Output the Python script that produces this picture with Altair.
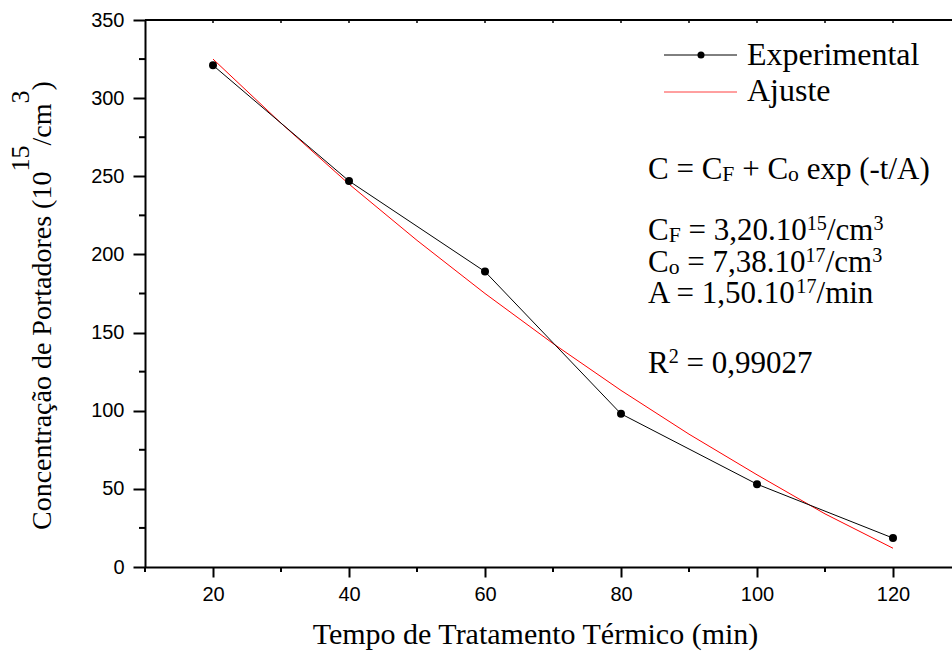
import altair as alt
import pandas as pd

# Measured carrier concentration (10^15 / cm^3) versus annealing time (min)
tempo = [20, 40, 60, 80, 100, 120]
concentracao = [321, 247, 189, 98, 53, 18.5]

# Fitted curve C = C_F + C_o exp(-t/A), sampled every 10 min
ajuste_t = [20, 30, 40, 50, 60, 70, 80, 90, 100, 110, 120]
ajuste_c = [325, 284, 245, 209, 175, 143, 113, 85, 59, 34, 12]

x_major = [20, 40, 60, 80, 100, 120]
x_minor = [10, 30, 50, 70, 90, 110]
x_top = [20, 30, 40, 50, 60, 70, 80, 90, 100, 110, 120]
y_major = [0, 50, 100, 150, 200, 250, 300, 350]
y_minor = [25, 75, 125, 175, 225, 275, 325]

SERIF = "Liberation Serif"
SANS = "Liberation Sans"

# Plot-area geometry (pixels) and the matching data domain
W, H = 807, 547
LEFT, TOP = 145, 20
X0 = 10
X1 = X0 + W / 6.8
Y0, Y1 = 0, 350
PXX = W / (X1 - X0)
PXY = H / (Y1 - Y0)


def dx(px):
    return X0 + (px - LEFT) / PXX


def dy(py):
    return Y1 - (py - TOP) / PXY


# Times / Liberation Serif advance widths (per 1000 em)
TIMES = {
    " ": 250, "C": 667, "=": 564, "F": 556, "+": 564, "o": 500, "e": 444,
    "x": 500, "p": 500, "(": 333, "-": 333, "t": 278, "/": 278, "A": 722,
    ")": 333, ",": 250, ".": 250, "c": 444, "m": 778, "i": 278, "n": 500,
    "R": 667, "ç": 444, "ã": 444, "P": 556, "s": 389, "d": 500, "a": 444,
    "r": 333, "E": 611, "l": 278, "j": 278, "u": 500,
}
for d in "0123456789":
    TIMES[d] = 500


def wid(s, fs):
    return sum(TIMES.get(c, 500) for c in s) * fs / 1000.0


def rich_line(segments, x_px, base_py, fs, sub=(0.7, 2), sup=(0.65, 10)):
    rows = []
    cur = x_px
    for txt, kind in segments:
        if kind == "n":
            size, off = fs, 0
        elif kind == "sub":
            size, off = fs * sub[0], sub[1]
        else:
            size, off = fs * sup[0], -sup[1]
        lead = len(txt) - len(txt.lstrip(" "))
        cur += wid(" " * lead, size)
        core = txt.strip(" ")
        rows.append({"x": dx(cur), "y": dy(base_py + off), "t": core, "fs": size})
        cur += wid(core, size)
        trail = len(txt) - len(txt.rstrip(" "))
        cur += wid(" " * trail, size)
    return rows


xs = alt.Scale(domain=[X0, X1], nice=False, zero=False)
ys = alt.Scale(domain=[Y0, Y1], nice=False, zero=False)

x_axis = alt.Axis(
    values=x_major, grid=False, title="Tempo de Tratamento Térmico (min)",
    tickSize=10, tickWidth=2, tickColor="black", domainWidth=2, domainColor="black",
    labelFont=SANS, labelFontSize=20, labelColor="black", labelPadding=7,
    titleFont=SERIF, titleFontSize=30, titleFontWeight="normal", titleColor="black",
    titleX=390, titleY=76, titleAlign="center", titleBaseline="alphabetic",
    titleAnchor="start",
)
y_axis = alt.Axis(
    values=y_major, grid=False, title=None,
    tickSize=12, tickWidth=2, tickColor="black", domainWidth=2, domainColor="black",
    labelFont=SANS, labelFontSize=20, labelColor="black", labelPadding=9,
)


def X(f="x"):
    return alt.X(f"{f}:Q", scale=xs, axis=x_axis)


def Y(f="y"):
    return alt.Y(f"{f}:Q", scale=ys, axis=y_axis)


exp_df = pd.DataFrame({"x": tempo, "y": concentracao})
fit_df = pd.DataFrame({"x": ajuste_t, "y": ajuste_c})

fit_line = alt.Chart(fit_df).mark_line(color="#ff0000", strokeWidth=1).encode(x=X(), y=Y())
exp_line = alt.Chart(exp_df).mark_line(color="black", strokeWidth=1).encode(x=X(), y=Y())
exp_pts = alt.Chart(exp_df).mark_circle(color="black", size=64, opacity=1).encode(x=X(), y=Y())

# Horizontal rules: top frame, y minor ticks, legend swatches
h_rows = [{"x": X0, "x2": X1, "y": Y1, "c": "black", "w": 2}]
for v in y_minor:
    h_rows.append({"x": dx(LEFT - 6), "x2": X0, "y": v, "c": "black", "w": 2})
h_rows.append({"x": dx(664), "x2": dx(737), "y": dy(55), "c": "black", "w": 1})
h_rows.append({"x": dx(664), "x2": dx(737), "y": dy(92), "c": "#ff4040", "w": 1})
h_df = pd.DataFrame(h_rows)
h_rules = alt.Chart(h_df).mark_rule().encode(
    x=X(), x2="x2:Q", y=Y(),
    color=alt.Color("c:N", scale=None),
    strokeWidth=alt.StrokeWidth("w:Q", scale=None),
)

# Vertical rules: x minor ticks below the axis, small inward ticks on the top frame
v_rows = []
for v in x_minor:
    v_rows.append({"x": v, "y": Y0, "y2": dy(TOP + H + 5), "w": 2})
for v in x_top:
    v_rows.append({"x": v, "y": Y1, "y2": dy(TOP + 3), "w": 1.5})
v_df = pd.DataFrame(v_rows)
v_rules = alt.Chart(v_df).mark_rule(color="black").encode(
    x=X(), y=Y(), y2="y2:Q",
    strokeWidth=alt.StrokeWidth("w:Q", scale=None),
)

leg_pt = alt.Chart(pd.DataFrame({"x": [dx(701)], "y": [dy(55)]})).mark_circle(
    color="black", size=50, opacity=1
).encode(x=X(), y=Y())

# Legend labels and fit annotation
FS = 31
txt_rows = []
txt_rows += rich_line([("Experimental", "n")], 747, 65, 32)
txt_rows += rich_line([("Ajuste", "n")], 747, 101, 32)
txt_rows += rich_line([("C = C", "n"), ("F", "sub"), (" + C", "n"), ("o", "sub"),
                       (" exp (-t/A)", "n")], 648, 179, FS)
txt_rows += rich_line([("C", "n"), ("F", "sub"), (" = 3,20.10", "n"), ("15", "sup"),
                       ("/cm", "n"), ("3", "sup")], 648, 240, FS)
txt_rows += rich_line([("C", "n"), ("o", "sub"), (" = 7,38.10", "n"), ("17", "sup"),
                       ("/cm", "n"), ("3", "sup")], 648, 272, FS)
txt_rows += rich_line([("A = 1,50.10", "n"), ("17", "sup"), ("/min", "n")], 648, 303, FS)
txt_rows += rich_line([("R", "n"), ("2", "sup"), (" = 0,99027", "n")], 648, 373, FS)
txt_df = pd.DataFrame(txt_rows)
texts = alt.Chart(txt_df).mark_text(
    align="left", baseline="alphabetic", font=SERIF, color="black"
).encode(x=X(), y=Y(), text="t:N", size=alt.Size("fs:Q", scale=None))

# Rotated y-axis title with raised exponents
YT_FS, YT_SUP, YT_RAISE = 28, 26, 22
yt_segments = [("Concentração de Portadores (10", "n"), ("15", "sup"), ("/cm", "n"),
               ("3", "sup"), (")", "n")]
yt_rows = []
cur = 0.0
base_x, start_y = 51, 530
for txt, kind in yt_segments:
    size = YT_FS if kind == "n" else YT_SUP
    raise_px = 0 if kind == "n" else YT_RAISE
    yt_rows.append({"x": dx(base_x - raise_px), "y": dy(start_y - cur), "t": txt, "fs": size})
    cur += wid(txt, size)
yt_df = pd.DataFrame(yt_rows)
ytitle = alt.Chart(yt_df).mark_text(
    align="left", baseline="alphabetic", font=SERIF, color="black", angle=270
).encode(x=X(), y=Y(), text="t:N", size=alt.Size("fs:Q", scale=None))

chart = alt.layer(
    fit_line, exp_line, exp_pts, h_rules, v_rules, leg_pt, texts, ytitle
).properties(
    width=W, height=H,
    autosize=alt.AutoSizeParams(type="none"),
    padding={"left": LEFT, "top": TOP, "right": 0, "bottom": 655 - TOP - H},
    background="white",
).configure_view(stroke=None)

chart.save("out.html", embed_options={"renderer": "svg", "actions": False})
